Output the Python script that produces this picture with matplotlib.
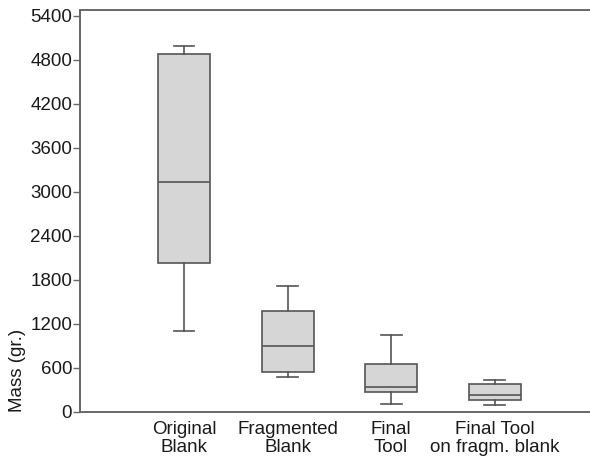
import matplotlib
matplotlib.use("Agg")
import matplotlib.pyplot as plt

categories = ["Original\nBlank", "Fragmented\nBlank", "Final\nTool", "Final Tool\non fragm. blank"]
whisker_low = [1105, 477, 105, 91]
q1 = [2032, 541, 264, 164]
median = [3136, 900, 337, 232]
q3 = [4874, 1373, 646, 382]
whisker_high = [4990, 1714, 1042, 428]
yticks = [0, 600, 1200, 1800, 2400, 3000, 3600, 4200, 4800, 5400]

plt.rcParams['font.family'] = ['Liberation Sans', 'DejaVu Sans']
txt = "#1a1a1a"

fig = plt.figure(figsize=(5.9, 4.58), dpi=100)
ax = fig.add_axes([80.5/590, 46.3/458, 1 - 80.5/590, (411.7-10)/458])

stats = []
for i, c in enumerate(categories):
    stats.append(dict(label=c, whislo=whisker_low[i], q1=q1[i], med=median[i],
                      q3=q3[i], whishi=whisker_high[i], fliers=[]))

lc = "#555555"
ax.bxp(stats, positions=[1, 2, 3, 4], widths=0.5, patch_artist=True, showfliers=False,
       boxprops=dict(facecolor="#d6d6d6", edgecolor=lc, linewidth=1.2),
       medianprops=dict(color=lc, linewidth=1.2),
       whiskerprops=dict(color=lc, linewidth=1.2),
       capprops=dict(color=lc, linewidth=1.2),
       capwidths=0.2)

ax.set_xlim(0.0, 4.92)
ax.set_ylim(0, 5480)
ax.set_yticks(yticks)
ax.set_yticklabels([str(v) for v in yticks], fontsize=13.5, color=txt)
ax.set_xticks([1, 2, 3, 4])
ax.set_xticklabels(categories, fontsize=13.5, linespacing=1.05, color=txt)
ax.tick_params(axis='x', length=0, pad=7)
ax.tick_params(axis='y', length=5, width=1.0, color="#666666", pad=1)
for s in ['left', 'bottom', 'top']:
    ax.spines[s].set_color("#666666")
    ax.spines[s].set_linewidth(1.4)
ax.spines['right'].set_visible(False)

fig.text(18/590, 1 - 370/458, "Mass (gr.)", rotation=90, fontsize=13.5, ha='center', va='center', color=txt)

fig.savefig("out.png", dpi=100)
